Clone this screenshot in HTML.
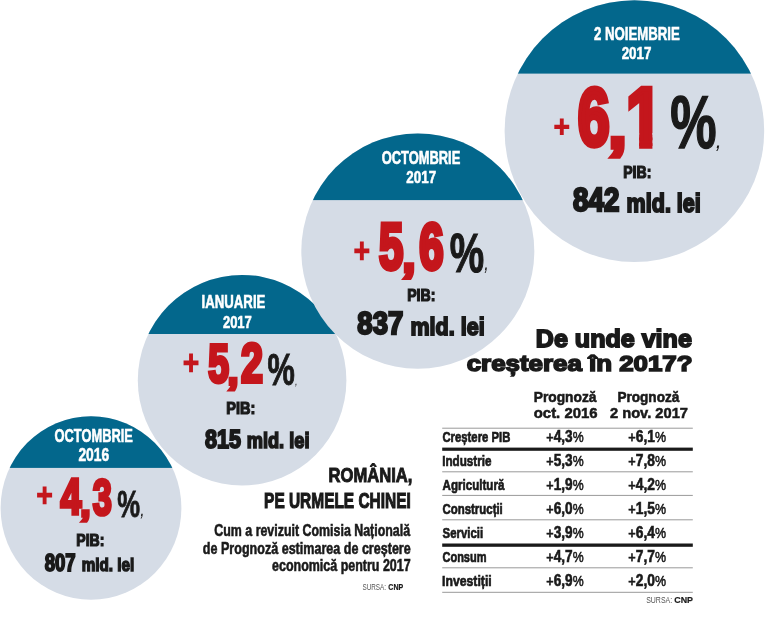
<!DOCTYPE html>
<html lang="ro"><head><meta charset="utf-8"><title>România, pe urmele Chinei</title>
<style>
html,body{margin:0;padding:0;background:#fff}
svg{display:block;will-change:transform}
text{font-family:"Liberation Sans",sans-serif;vector-effect:non-scaling-stroke;stroke-linejoin:miter}
</style></head><body>
<svg width="768" height="617" viewBox="0 0 768 617">
<rect width="768" height="617" fill="#fff"/>
<clipPath id="c1"><ellipse cx="91" cy="508" rx="90.4" ry="91.8"/></clipPath>
<ellipse cx="91" cy="508" rx="90.4" ry="91.8" fill="#d5dce6"/>
<rect x="-0.4000000000000057" y="415.2" width="182.8" height="52.70" fill="#03678c" clip-path="url(#c1)"/>
<clipPath id="c2"><ellipse cx="242.1" cy="380.2" rx="104.3" ry="105.3"/></clipPath>
<ellipse cx="242.1" cy="380.2" rx="104.3" ry="105.3" fill="#d5dce6"/>
<rect x="136.8" y="273.9" width="210.6" height="60.10" fill="#03678c" clip-path="url(#c2)"/>
<clipPath id="c3"><ellipse cx="417.8" cy="251.1" rx="116.5" ry="117.7"/></clipPath>
<ellipse cx="417.8" cy="251.1" rx="116.5" ry="117.7" fill="#d5dce6"/>
<rect x="300.3" y="132.39999999999998" width="235.0" height="67.70" fill="#03678c" clip-path="url(#c3)"/>
<clipPath id="c4"><ellipse cx="634.4" cy="131.1" rx="129.8" ry="130.8"/></clipPath>
<ellipse cx="634.4" cy="131.1" rx="129.8" ry="130.8" fill="#d5dce6"/>
<rect x="503.59999999999997" y="-0.700000000000017" width="261.6" height="74.30" fill="#03678c" clip-path="url(#c4)"/>
<text transform="translate(54.55 441.64) scale(0.7058 1)" font-size="18.23" font-weight="bold" fill="#ffffff" stroke="#ffffff" stroke-width="0.52">OCTOMBRIE</text>
<text transform="translate(78.38 460.96) scale(0.7801 1)" font-size="17.71" font-weight="bold" fill="#ffffff" stroke="#ffffff" stroke-width="0.52">2016</text>
<text><tspan x="36.82" y="505.83" font-size="32.04" textLength="15.73" lengthAdjust="spacingAndGlyphs" font-weight="normal" fill="#c4161c" stroke="#c4161c" stroke-width="2.30">+</tspan><tspan x="60.62" y="514.35" font-size="50.29" textLength="20.84" lengthAdjust="spacingAndGlyphs" font-weight="bold" fill="#c4161c" stroke="#c4161c" stroke-width="3.70">4</tspan><tspan x="80.80" y="516.47" font-size="32.79" textLength="9.28" lengthAdjust="spacingAndGlyphs" font-weight="bold" fill="#c4161c" stroke="#c4161c" stroke-width="3.70">,</tspan><tspan x="92.69" y="514.54" font-size="50.70" textLength="19.09" lengthAdjust="spacingAndGlyphs" font-weight="bold" fill="#c4161c" stroke="#c4161c" stroke-width="3.70">3</tspan><tspan x="117.34" y="517.43" font-size="36.74" textLength="22.80" lengthAdjust="spacingAndGlyphs" font-weight="bold" fill="#1a1a1a" stroke="#1a1a1a" stroke-width="0.80">%</tspan><tspan x="140.19" y="516.49" font-size="20.85" textLength="4.37" lengthAdjust="spacingAndGlyphs" font-weight="normal" font-style="italic" fill="#1a1a1a">,</tspan></text>
<text transform="translate(76.25 545.74) scale(0.8553 1)" font-size="16.49" font-weight="bold" fill="#1a1a1a" stroke="#1a1a1a" stroke-width="1.12">PIB:</text>
<text transform="translate(44.68 570.93) scale(0.7836 1)" font-size="23.71" font-weight="bold" fill="#1a1a1a" stroke="#1a1a1a" stroke-width="1.67">807</text>
<text transform="translate(81.78 571.33) scale(0.8095 1)" font-size="18.83" font-weight="bold" fill="#1a1a1a" stroke="#1a1a1a" stroke-width="1.35">mld. lei</text>
<text transform="translate(201.60 308.14) scale(0.7349 1)" font-size="17.95" font-weight="bold" fill="#ffffff" stroke="#ffffff" stroke-width="0.52">IANUARIE</text>
<text transform="translate(222.90 327.57) scale(0.7582 1)" font-size="17.17" font-weight="bold" fill="#ffffff" stroke="#ffffff" stroke-width="0.51">2017</text>
<text><tspan x="183.15" y="373.62" font-size="32.45" textLength="15.57" lengthAdjust="spacingAndGlyphs" font-weight="normal" fill="#c4161c" stroke="#c4161c" stroke-width="2.40">+</tspan><tspan x="208.21" y="381.82" font-size="53.43" textLength="20.73" lengthAdjust="spacingAndGlyphs" font-weight="bold" fill="#c4161c" stroke="#c4161c" stroke-width="4.10">5</tspan><tspan x="228.24" y="383.71" font-size="34.43" textLength="9.54" lengthAdjust="spacingAndGlyphs" font-weight="bold" fill="#c4161c" stroke="#c4161c" stroke-width="4.10">,</tspan><tspan x="240.89" y="382.35" font-size="54.86" textLength="21.96" lengthAdjust="spacingAndGlyphs" font-weight="bold" fill="#c4161c" stroke="#c4161c" stroke-width="4.10">2</tspan><tspan x="267.58" y="384.86" font-size="44.26" textLength="27.32" lengthAdjust="spacingAndGlyphs" font-weight="bold" fill="#1a1a1a" stroke="#1a1a1a" stroke-width="1.00">%</tspan><tspan x="295.01" y="384.96" font-size="11.06" textLength="2.58" lengthAdjust="spacingAndGlyphs" font-weight="normal" font-style="italic" fill="#1a1a1a">,</tspan></text>
<text transform="translate(226.23 413.92) scale(0.8603 1)" font-size="16.88" font-weight="bold" fill="#1a1a1a" stroke="#1a1a1a" stroke-width="1.15">PIB:</text>
<text transform="translate(205.08 447.51) scale(0.8192 1)" font-size="26.27" font-weight="bold" fill="#1a1a1a" stroke="#1a1a1a" stroke-width="1.84">815</text>
<text transform="translate(246.70 447.92) scale(0.8346 1)" font-size="21.84" font-weight="bold" fill="#1a1a1a" stroke="#1a1a1a" stroke-width="1.57">mld. lei</text>
<text transform="translate(381.74 163.84) scale(0.7131 1)" font-size="18.09" font-weight="bold" fill="#ffffff" stroke="#ffffff" stroke-width="0.52">OCTOMBRIE</text>
<text transform="translate(406.29 182.57) scale(0.7737 1)" font-size="17.31" font-weight="bold" fill="#ffffff" stroke="#ffffff" stroke-width="0.51">2017</text>
<text><tspan x="354.04" y="261.66" font-size="32.86" textLength="15.70" lengthAdjust="spacingAndGlyphs" font-weight="normal" fill="#c4161c" stroke="#c4161c" stroke-width="2.40">+</tspan><tspan x="379.12" y="269.46" font-size="64.43" textLength="24.30" lengthAdjust="spacingAndGlyphs" font-weight="bold" fill="#c4161c" stroke="#c4161c" stroke-width="4.80">5</tspan><tspan x="403.34" y="271.19" font-size="42.62" textLength="11.44" lengthAdjust="spacingAndGlyphs" font-weight="bold" fill="#c4161c" stroke="#c4161c" stroke-width="4.80">,</tspan><tspan x="419.19" y="269.45" font-size="64.65" textLength="24.36" lengthAdjust="spacingAndGlyphs" font-weight="bold" fill="#c4161c" stroke="#c4161c" stroke-width="4.80">6</tspan><tspan x="449.85" y="272.25" font-size="55.18" textLength="34.36" lengthAdjust="spacingAndGlyphs" font-weight="bold" fill="#1a1a1a" stroke="#1a1a1a" stroke-width="1.20">%</tspan><tspan x="484.27" y="270.35" font-size="24.26" textLength="4.56" lengthAdjust="spacingAndGlyphs" font-weight="normal" font-style="italic" fill="#1a1a1a">,</tspan></text>
<text transform="translate(407.15 301.34) scale(0.8553 1)" font-size="16.49" font-weight="bold" fill="#1a1a1a" stroke="#1a1a1a" stroke-width="1.12">PIB:</text>
<text transform="translate(357.37 334.29) scale(0.8802 1)" font-size="31.27" font-weight="bold" fill="#1a1a1a" stroke="#1a1a1a" stroke-width="2.20">837</text>
<text transform="translate(410.48 334.82) scale(0.8748 1)" font-size="24.60" font-weight="bold" fill="#1a1a1a" stroke="#1a1a1a" stroke-width="1.76">mld. lei</text>
<text transform="translate(594.00 39.94) scale(0.7298 1)" font-size="18.09" font-weight="bold" fill="#ffffff" stroke="#ffffff" stroke-width="0.52">2 NOIEMBRIE</text>
<text transform="translate(621.68 59.28) scale(0.7862 1)" font-size="17.04" font-weight="bold" fill="#ffffff" stroke="#ffffff" stroke-width="0.50">2017</text>
<clipPath id="k1"><rect x="540" y="70" width="86" height="100"/><rect x="626" y="70" width="43" height="63"/><rect x="639.13" y="129" width="13.27" height="30"/><rect x="669" y="70" width="61" height="100"/></clipPath>
<text clip-path="url(#k1)"><tspan x="553.95" y="136.62" font-size="28.57" textLength="15.58" lengthAdjust="spacingAndGlyphs" font-weight="normal" fill="#c4161c" stroke="#c4161c" stroke-width="2.10">+</tspan><tspan x="577.80" y="145.24" font-size="81.06" textLength="31.96" lengthAdjust="spacingAndGlyphs" font-weight="bold" fill="#c4161c" stroke="#c4161c" stroke-width="5.40">6</tspan><tspan x="609.23" y="146.51" font-size="57.38" textLength="16.61" lengthAdjust="spacingAndGlyphs" font-weight="bold" fill="#c4161c" stroke="#c4161c" stroke-width="5.40">,</tspan><tspan x="625.98" y="145.60" font-size="82.75" textLength="36.50" lengthAdjust="spacingAndGlyphs" font-weight="bold" fill="#c4161c" stroke="#c4161c" stroke-width="5.40">1</tspan><tspan x="670.23" y="148.31" font-size="73.83" textLength="46.30" lengthAdjust="spacingAndGlyphs" font-weight="bold" fill="#1a1a1a" stroke="#1a1a1a" stroke-width="1.50">%</tspan><tspan x="715.83" y="147.59" font-size="24.68" textLength="5.85" lengthAdjust="spacingAndGlyphs" font-weight="normal" font-style="italic" fill="#1a1a1a">,</tspan></text>
<text transform="translate(623.24 178.04) scale(0.8592 1)" font-size="16.35" font-weight="bold" fill="#1a1a1a" stroke="#1a1a1a" stroke-width="1.12">PIB:</text>
<text transform="translate(573.11 211.23) scale(0.8515 1)" font-size="32.55" font-weight="bold" fill="#1a1a1a" stroke="#1a1a1a" stroke-width="2.29">842</text>
<text transform="translate(626.62 211.78) scale(0.8366 1)" font-size="25.73" font-weight="bold" fill="#1a1a1a" stroke="#1a1a1a" stroke-width="1.84">mld. lei</text>
<text transform="translate(328.58 481.84) scale(0.8008 1)" font-size="20.71" font-weight="bold" fill="#1a1a1a" stroke="#1a1a1a" stroke-width="0.91">ROMÂNIA,</text>
<text transform="translate(264.08 507.62) scale(0.7092 1)" font-size="21.80" font-weight="bold" fill="#1a1a1a" stroke="#1a1a1a" stroke-width="0.96">PE URMELE CHINEI</text>
<text transform="translate(214.26 536.34) scale(0.7734 1)" font-size="16.06" font-weight="bold" fill="#1a1a1a" stroke="#1a1a1a" stroke-width="0.52">Cum a revizuit Comisia Națională</text>
<text transform="translate(202.86 553.64) scale(0.7820 1)" font-size="16.06" font-weight="bold" fill="#1a1a1a" stroke="#1a1a1a" stroke-width="0.52">de Prognoză estimarea de creștere</text>
<text transform="translate(272.06 570.88) scale(0.8002 1)" font-size="15.60" font-weight="bold" fill="#1a1a1a" stroke="#1a1a1a" stroke-width="0.52">economică pentru 2017</text>
<text transform="translate(362.41 589.90) scale(0.6966 1)" font-size="9.13" font-weight="normal" fill="#555">SURSA:</text>
<text transform="translate(388.31 589.81) scale(0.7976 1)" font-size="8.86" font-weight="bold" fill="#1a1a1a" stroke="#1a1a1a" stroke-width="0.19">CNP</text>
<text transform="translate(535.86 346.51) scale(1.0164 1)" font-size="24.66" font-weight="bold" fill="#1a1a1a" stroke="#1a1a1a" stroke-width="1.79">De unde vine</text>
<text transform="translate(466.71 371.33) scale(1.1405 1)" font-size="22.69" font-weight="bold" fill="#1a1a1a" stroke="#1a1a1a" stroke-width="1.69">creșterea în 2017?</text>
<text transform="translate(533.68 401.72) scale(0.8955 1)" font-size="15.42" font-weight="bold" fill="#1a1a1a" stroke="#1a1a1a" stroke-width="0.56">Prognoză</text>
<text transform="translate(533.77 418.40) scale(1.0609 1)" font-size="14.05" font-weight="bold" fill="#1a1a1a" stroke="#1a1a1a" stroke-width="0.53">oct. 2016</text>
<text transform="translate(617.40 401.72) scale(0.8825 1)" font-size="15.42" font-weight="bold" fill="#1a1a1a" stroke="#1a1a1a" stroke-width="0.56">Prognoză</text>
<text transform="translate(609.95 418.40) scale(1.0442 1)" font-size="14.05" font-weight="bold" fill="#1a1a1a" stroke="#1a1a1a" stroke-width="0.53">2 nov. 2017</text>
<text transform="translate(442.46 441.79) scale(0.7372 1)" font-size="15.34" font-weight="bold" fill="#1a1a1a" stroke="#1a1a1a" stroke-width="0.62">Creștere PIB</text>
<text transform="translate(546.35 441.66) scale(0.8196 1)" font-size="16.68" fill="#1a1a1a"><tspan font-weight="normal" font-size="15.35" stroke="#1a1a1a" stroke-width="0.76">+</tspan><tspan font-weight="bold" stroke="#1a1a1a" stroke-width="0.63">4,3</tspan><tspan font-weight="normal" font-size="15.01" stroke="#1a1a1a" stroke-width="0.57">%</tspan></text>
<text transform="translate(628.34 441.66) scale(0.8286 1)" font-size="16.68" fill="#1a1a1a"><tspan font-weight="normal" font-size="15.35" stroke="#1a1a1a" stroke-width="0.76">+</tspan><tspan font-weight="bold" stroke="#1a1a1a" stroke-width="0.63">6,1</tspan><tspan font-weight="normal" font-size="15.01" stroke="#1a1a1a" stroke-width="0.57">%</tspan></text>
<text transform="translate(442.15 465.79) scale(0.7609 1)" font-size="15.34" font-weight="bold" fill="#1a1a1a" stroke="#1a1a1a" stroke-width="0.62">Industrie</text>
<text transform="translate(546.35 465.66) scale(0.8196 1)" font-size="16.68" fill="#1a1a1a"><tspan font-weight="normal" font-size="15.35" stroke="#1a1a1a" stroke-width="0.76">+</tspan><tspan font-weight="bold" stroke="#1a1a1a" stroke-width="0.63">5,3</tspan><tspan font-weight="normal" font-size="15.01" stroke="#1a1a1a" stroke-width="0.57">%</tspan></text>
<text transform="translate(628.34 465.66) scale(0.8286 1)" font-size="16.68" fill="#1a1a1a"><tspan font-weight="normal" font-size="15.35" stroke="#1a1a1a" stroke-width="0.76">+</tspan><tspan font-weight="bold" stroke="#1a1a1a" stroke-width="0.63">7,8</tspan><tspan font-weight="normal" font-size="15.01" stroke="#1a1a1a" stroke-width="0.57">%</tspan></text>
<text transform="translate(442.62 489.79) scale(0.7547 1)" font-size="15.34" font-weight="bold" fill="#1a1a1a" stroke="#1a1a1a" stroke-width="0.62">Agricultură</text>
<text transform="translate(546.35 489.66) scale(0.8196 1)" font-size="16.68" fill="#1a1a1a"><tspan font-weight="normal" font-size="15.35" stroke="#1a1a1a" stroke-width="0.76">+</tspan><tspan font-weight="bold" stroke="#1a1a1a" stroke-width="0.63">1,9</tspan><tspan font-weight="normal" font-size="15.01" stroke="#1a1a1a" stroke-width="0.57">%</tspan></text>
<text transform="translate(628.34 489.66) scale(0.8286 1)" font-size="16.68" fill="#1a1a1a"><tspan font-weight="normal" font-size="15.35" stroke="#1a1a1a" stroke-width="0.76">+</tspan><tspan font-weight="bold" stroke="#1a1a1a" stroke-width="0.63">4,2</tspan><tspan font-weight="normal" font-size="15.01" stroke="#1a1a1a" stroke-width="0.57">%</tspan></text>
<text transform="translate(442.45 513.79) scale(0.7463 1)" font-size="15.34" font-weight="bold" fill="#1a1a1a" stroke="#1a1a1a" stroke-width="0.62">Construcții</text>
<text transform="translate(546.35 513.66) scale(0.8196 1)" font-size="16.68" fill="#1a1a1a"><tspan font-weight="normal" font-size="15.35" stroke="#1a1a1a" stroke-width="0.76">+</tspan><tspan font-weight="bold" stroke="#1a1a1a" stroke-width="0.63">6,0</tspan><tspan font-weight="normal" font-size="15.01" stroke="#1a1a1a" stroke-width="0.57">%</tspan></text>
<text transform="translate(628.34 513.66) scale(0.8286 1)" font-size="16.68" fill="#1a1a1a"><tspan font-weight="normal" font-size="15.35" stroke="#1a1a1a" stroke-width="0.76">+</tspan><tspan font-weight="bold" stroke="#1a1a1a" stroke-width="0.63">1,5</tspan><tspan font-weight="normal" font-size="15.01" stroke="#1a1a1a" stroke-width="0.57">%</tspan></text>
<text transform="translate(442.57 537.79) scale(0.7440 1)" font-size="15.34" font-weight="bold" fill="#1a1a1a" stroke="#1a1a1a" stroke-width="0.62">Servicii</text>
<text transform="translate(546.35 537.66) scale(0.8196 1)" font-size="16.68" fill="#1a1a1a"><tspan font-weight="normal" font-size="15.35" stroke="#1a1a1a" stroke-width="0.76">+</tspan><tspan font-weight="bold" stroke="#1a1a1a" stroke-width="0.63">3,9</tspan><tspan font-weight="normal" font-size="15.01" stroke="#1a1a1a" stroke-width="0.57">%</tspan></text>
<text transform="translate(628.34 537.66) scale(0.8286 1)" font-size="16.68" fill="#1a1a1a"><tspan font-weight="normal" font-size="15.35" stroke="#1a1a1a" stroke-width="0.76">+</tspan><tspan font-weight="bold" stroke="#1a1a1a" stroke-width="0.63">6,4</tspan><tspan font-weight="normal" font-size="15.01" stroke="#1a1a1a" stroke-width="0.57">%</tspan></text>
<text transform="translate(442.47 561.79) scale(0.7185 1)" font-size="15.34" font-weight="bold" fill="#1a1a1a" stroke="#1a1a1a" stroke-width="0.62">Consum</text>
<text transform="translate(546.35 561.66) scale(0.8196 1)" font-size="16.68" fill="#1a1a1a"><tspan font-weight="normal" font-size="15.35" stroke="#1a1a1a" stroke-width="0.76">+</tspan><tspan font-weight="bold" stroke="#1a1a1a" stroke-width="0.63">4,7</tspan><tspan font-weight="normal" font-size="15.01" stroke="#1a1a1a" stroke-width="0.57">%</tspan></text>
<text transform="translate(628.34 561.66) scale(0.8286 1)" font-size="16.68" fill="#1a1a1a"><tspan font-weight="normal" font-size="15.35" stroke="#1a1a1a" stroke-width="0.76">+</tspan><tspan font-weight="bold" stroke="#1a1a1a" stroke-width="0.63">7,7</tspan><tspan font-weight="normal" font-size="15.01" stroke="#1a1a1a" stroke-width="0.57">%</tspan></text>
<text transform="translate(442.11 585.79) scale(0.7970 1)" font-size="15.34" font-weight="bold" fill="#1a1a1a" stroke="#1a1a1a" stroke-width="0.62">Investiții</text>
<text transform="translate(546.35 585.66) scale(0.8196 1)" font-size="16.68" fill="#1a1a1a"><tspan font-weight="normal" font-size="15.35" stroke="#1a1a1a" stroke-width="0.76">+</tspan><tspan font-weight="bold" stroke="#1a1a1a" stroke-width="0.63">6,9</tspan><tspan font-weight="normal" font-size="15.01" stroke="#1a1a1a" stroke-width="0.57">%</tspan></text>
<text transform="translate(628.34 585.66) scale(0.8286 1)" font-size="16.68" fill="#1a1a1a"><tspan font-weight="normal" font-size="15.35" stroke="#1a1a1a" stroke-width="0.76">+</tspan><tspan font-weight="bold" stroke="#1a1a1a" stroke-width="0.63">2,0</tspan><tspan font-weight="normal" font-size="15.01" stroke="#1a1a1a" stroke-width="0.57">%</tspan></text>
<rect x="442.2" y="427.70" width="250.60" height="1" fill="#9a9a9a"/>
<rect x="442.2" y="447.60" width="250.60" height="3.2" fill="#1a1a1a"/>
<rect x="442.2" y="471.30" width="250.60" height="1" fill="#9a9a9a"/>
<rect x="442.2" y="494.90" width="250.60" height="1" fill="#9a9a9a"/>
<rect x="442.2" y="519.30" width="250.60" height="1" fill="#9a9a9a"/>
<rect x="442.2" y="543.50" width="250.60" height="3.3" fill="#1a1a1a"/>
<rect x="442.2" y="567.30" width="250.60" height="1" fill="#9a9a9a"/>
<rect x="442.2" y="591.80" width="250.60" height="1" fill="#9a9a9a"/>
<text transform="translate(646.19 602.80) scale(0.7638 1)" font-size="9.13" font-weight="normal" fill="#555">SURSA:</text>
<text transform="translate(674.24 602.71) scale(1.0024 1)" font-size="8.86" font-weight="bold" fill="#1a1a1a" stroke="#1a1a1a" stroke-width="0.19">CNP</text>
</svg>
</body></html>
